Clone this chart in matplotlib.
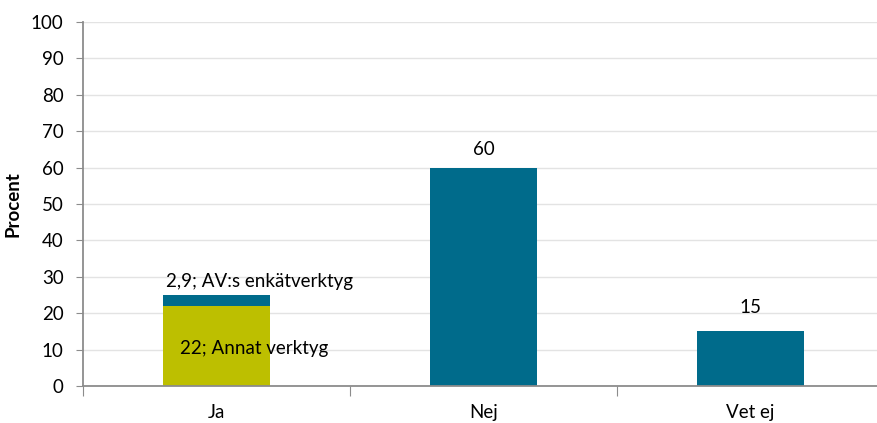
import matplotlib.pyplot as plt

categories = ["Ja", "Nej", "Vet ej"]
annat_verktyg = [22, 0, 0]
av_enkat = [2.9, 60, 15]
value_labels = ["2,9; AV:s enkätverktyg", "60", "15"]

olive = "#BDBF00"
teal = "#006B8B"
axis_grey = "#8C8C8C"
fs = 13.5

plt.rcParams["font.family"] = ["Lato", "DejaVu Sans"]

fig = plt.figure(figsize=(8.77, 4.23), dpi=100)
ax = fig.add_axes([83 / 877, 37 / 423, 801 / 877, 364 / 423])

x = range(len(categories))
ax.bar(x, annat_verktyg, width=0.4, color=olive, zorder=2)
ax.bar(x, av_enkat, width=0.4, bottom=annat_verktyg, color=teal, zorder=2)

# value labels; label centres sit a few units above the bar tops
label_y = [28.8, 65, 21.7]
for i, (a, b, lab) in enumerate(zip(annat_verktyg, av_enkat, value_labels)):
    if i == 0:
        ax.text(i - 0.19, label_y[i], lab, ha="left", va="center", fontsize=fs)
        ax.text(i + 0.14, 10.4, f"{a}; Annat verktyg", ha="center",
                va="center", fontsize=fs)
    else:
        ax.text(i, label_y[i], lab, ha="center", va="center", fontsize=fs)

ax.set_xlim(-0.5, 2.5)
ax.set_ylim(0, 100)
ax.set_yticks(range(0, 101, 10))
ax.yaxis.grid(True, color="#E3E3E3", linewidth=1, zorder=0)
ax.set_axisbelow(True)

ax.set_xticks([-0.5, 0.5, 1.5, 2.5])
ax.set_xticklabels([])
ax.set_xticks(list(x), categories, minor=True)
ax.tick_params(axis="x", which="major", length=7, color=axis_grey, direction="out")
ax.tick_params(axis="x", which="minor", length=0, pad=13, labelsize=fs)
ax.tick_params(axis="y", length=5, color=axis_grey, labelsize=fs, pad=9)

for side in ["top", "right"]:
    ax.spines[side].set_visible(False)
for side in ["left", "bottom"]:
    ax.spines[side].set_color(axis_grey)
    ax.spines[side].set_linewidth(1.3)

ax.set_ylabel("Procent", fontsize=fs, fontweight="bold", labelpad=7)

fig.savefig("out.png", dpi=100)
